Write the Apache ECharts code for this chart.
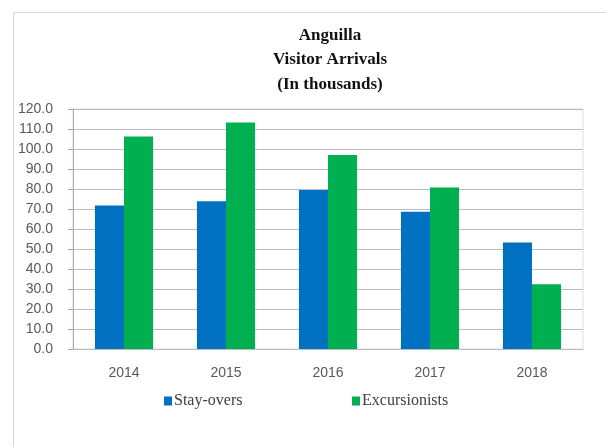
<!DOCTYPE html>
<html>
<head>
<meta http-equiv="Content-Type" content="text/html; charset=UTF-8">
<title>Anguilla Visitor Arrivals</title>
<script src="https://cdn.jsdelivr.net/npm/echarts@6/dist/echarts.min.js"></script>
</head>
<body style="margin:0;background:#fff;">
<div id="arrivals" style="width: 606px; height: 447px;"></div>
<script type="text/javascript">
    var years = ['2014', '2015', '2016', '2017', '2018'];
    var stayOvers = [71.8, 73.9, 79.5, 68.6, 53.2];
    var excursionists = [106.3, 113.2, 97.0, 80.8, 32.4];

    var serif = "'Liberation Serif', 'Times New Roman', serif";
    var sans = "'Liberation Sans', Arial, sans-serif";

    var myChart = echarts.init(document.getElementById('arrivals'));
    myChart.setOption({
        backgroundColor: '#ffffff',
        animation: false,
        title: {
            text: 'Anguilla\nVisitor Arrivals\n(In thousands)',
            left: 325,
            top: 18,
            textAlign: 'center',
            textStyle: {
                fontFamily: serif,
                fontWeight: 'bold',
                fontSize: 17,
                lineHeight: 24.5,
                color: '#111111'
            }
        },
        graphic: [{
            type: 'rect',
            shape: { x: 13.5, y: 12.5, width: 700, height: 500 },
            style: { fill: 'none', stroke: '#d5dae2', lineWidth: 1 },
            silent: true
        }],
        legend: [{
            data: ['Stay-overs'],
            left: 159,
            top: 388,
            itemWidth: 8,
            itemHeight: 9,
            itemGap: 0,
            icon: 'rect',
            textStyle: { fontFamily: serif, fontSize: 16, color: '#404040', padding: [0, 0, 0, -3] }
        }, {
            data: ['Excursionists'],
            left: 347,
            top: 388,
            itemWidth: 8,
            itemHeight: 9,
            icon: 'rect',
            textStyle: { fontFamily: serif, fontSize: 16, color: '#404040', padding: [0, 0, 0, -3] }
        }],
        grid: {
            left: 73,
            right: 23,
            top: 109,
            bottom: 98,
            show: true,
            borderColor: '#d9dde3',
            borderWidth: 1
        },
        xAxis: {
            type: 'category',
            data: years,
            axisLine: { lineStyle: { color: '#b8bcc6' } },
            axisTick: { show: false },
            axisLabel: { fontFamily: sans, fontSize: 14, color: '#595959', margin: 17 }
        },
        yAxis: {
            type: 'value',
            min: 0,
            max: 120,
            interval: 10,
            axisLine: { show: true, lineStyle: { color: '#a6abb5' } },
            axisTick: { show: true, length: 5, lineStyle: { color: '#a6abb5' } },
            splitLine: { lineStyle: { color: '#b8bcc6' } },
            axisLabel: {
                fontFamily: sans,
                fontSize: 14,
                color: '#595959',
                margin: 20,
                formatter: function (v) { return v.toFixed(1); }
            }
        },
        series: [{
            name: 'Stay-overs',
            type: 'bar',
            data: stayOvers,
            barGap: '0%',
            barCategoryGap: '43%',
            itemStyle: { color: '#0070c0' }
        }, {
            name: 'Excursionists',
            type: 'bar',
            data: excursionists,
            itemStyle: { color: '#00b050' }
        }]
    });
</script>
</body>
</html>
